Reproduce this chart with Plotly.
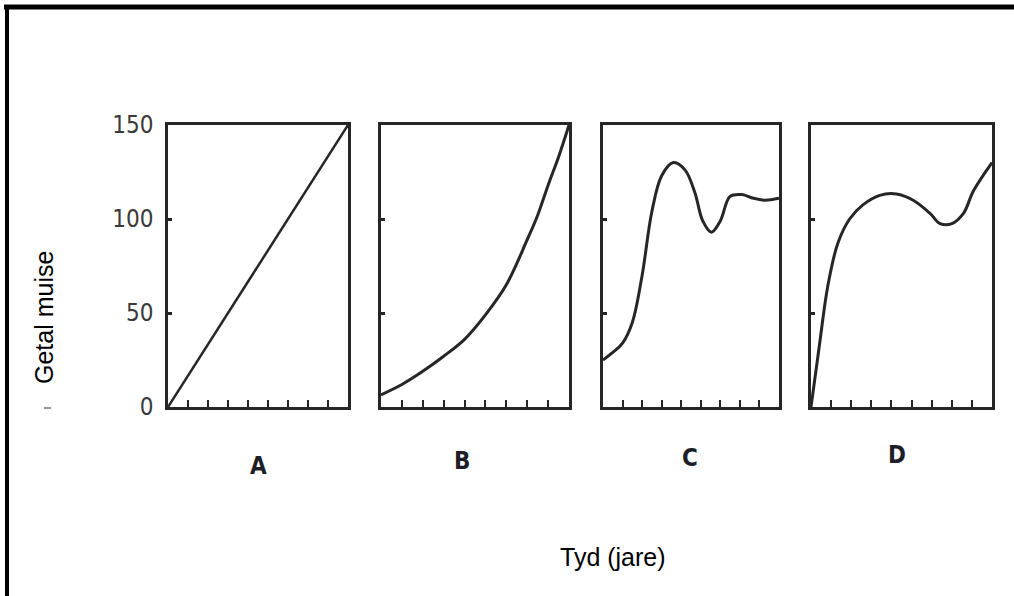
import plotly.graph_objects as go

W, H = 1014, 596

# ---- data (x: years 0..9, y: number of mice) ----
panel_labels = ["A", "B", "C", "D"]

x_A = [0, 9]
y_A = [0, 150]

x_B = [0, 1, 2, 3, 4, 5, 6, 7, 7.5, 8, 8.5, 9]
y_B = [6.5, 12, 19, 27, 36, 49, 65, 89, 102, 118, 133, 150]

x_C = [0, 0.5, 1, 1.5, 2, 2.5, 3, 3.6, 4.2, 4.7, 5.1, 5.55, 6, 6.5, 7.1, 7.7, 8.3, 9]
y_C = [25, 29, 34, 45, 70, 104, 123, 130, 126, 114, 99, 93, 99, 112, 113, 111, 110, 111]

x_D = [0, 0.42, 0.83, 1.33, 1.92, 2.58, 3.42, 4.25, 5.08, 5.92, 6.42, 7.0, 7.58, 8.08, 9]
y_D = [0, 33, 64, 87, 100, 107.5, 112.6, 113.3, 110, 103, 97.5, 97.5, 103, 115, 130]

y_ticks = [0, 50, 100, 150]
x_ticks = [1, 2, 3, 4, 5, 6, 7, 8]

y_title = "Getal muise"
x_title = "Tyd (jare)"

# ---- layout helpers ----
def px(x):
    return x / W

def py(y):
    return 1 - y / H

panels = [
    (x_A, y_A, 168, 348, 2.5),
    (x_B, y_B, 381, 569, 3),
    (x_C, y_C, 603, 779, 3),
    (x_D, y_D, 811, 992, 3),
]

y_dom = [py(407), py(125)]
line_col = "#262626"
narrow = "Liberation Sans Narrow, Arial Narrow, DejaVu Sans Condensed, sans-serif"
num_font = dict(family=narrow, size=24, color="#3a3a3a")

fig = go.Figure()
layout = dict(
    width=W, height=H, autosize=False,
    margin=dict(l=0, r=0, t=0, b=0, pad=0),
    paper_bgcolor="white", plot_bgcolor="white",
    showlegend=False,
)

for i, (xs, ys, x0, x1, lw) in enumerate(panels):
    n = "" if i == 0 else str(i + 1)
    fig.add_trace(go.Scatter(
        x=xs, y=ys, mode="lines",
        line=dict(color=line_col, width=lw, shape="spline", smoothing=1.0),
        xaxis="x" + n, yaxis="y" + n, hoverinfo="skip",
    ))
    layout["xaxis" + n] = dict(
        domain=[px(x0), px(x1)], anchor="y" + n, range=[0, 9],
        showgrid=False, zeroline=False, automargin=False,
        showline=True, mirror=True, linecolor=line_col, linewidth=2.5,
        tickvals=x_ticks, ticks="inside", ticklen=7, tickwidth=2,
        tickcolor=line_col, showticklabels=False,
    )
    layout["yaxis" + n] = dict(
        domain=y_dom, anchor="x" + n, range=[0, 150],
        showgrid=False, zeroline=False, automargin=False,
        showline=True, mirror=True, linecolor=line_col, linewidth=2.5,
        tickvals=y_ticks, ticktext=[str(v) for v in y_ticks],
        ticks="inside", ticklen=4, tickwidth=2.5, tickcolor=line_col,
        showticklabels=(i == 0), tickfont=num_font, ticklabelstandoff=7,
    )

fig.update_layout(**layout)

# panel letters
letter_pos = [(258, 466), (462, 461), (690, 458), (897, 455)]
for lab, (lx, ly) in zip(panel_labels, letter_pos):
    fig.add_annotation(
        x=px(lx), y=py(ly), xref="paper", yref="paper", text="<b>" + lab + "</b>",
        showarrow=False, xanchor="center", yanchor="middle",
        font=dict(family=narrow, size=24, color="#1e1e28"),
    )

# axis titles
fig.add_annotation(
    x=px(613), y=py(557), xref="paper", yref="paper", text=x_title,
    showarrow=False, xanchor="center", yanchor="middle",
    font=dict(family="Liberation Sans, Arial, sans-serif", size=25, color="black"),
)
fig.add_annotation(
    x=px(44), y=py(318), xref="paper", yref="paper", text=y_title, textangle=-90,
    showarrow=False, xanchor="center", yanchor="middle",
    font=dict(family="Liberation Sans, Arial, sans-serif", size=25, color="black"),
)

# outer frame (top and left edges only) and small scan mark
fig.add_shape(type="line", xref="paper", yref="paper",
              x0=px(4), x1=1, y0=py(7), y1=py(7), line=dict(color="black", width=5))
fig.add_shape(type="line", xref="paper", yref="paper",
              x0=px(7), x1=px(7), y0=py(5), y1=0, line=dict(color="black", width=4))
fig.add_shape(type="line", xref="paper", yref="paper",
              x0=px(44), x1=px(51), y0=py(408), y1=py(408), line=dict(color="#999999", width=2))

fig.write_html("out.html", config={"displayModeBar": False},
               post_script="document.body.style.margin='0';")
